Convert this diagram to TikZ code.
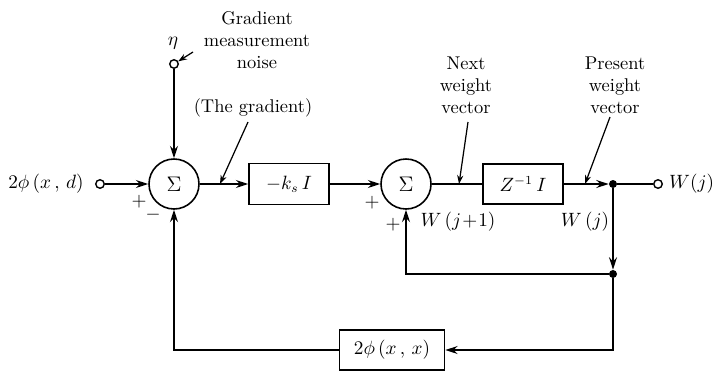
\documentclass[tikz,border=0pt]{standalone}
\usetikzlibrary{arrows.meta,positioning}

\begin{document}
\begin{tikzpicture}[
  >={Stealth[length=7pt,width=4.5pt]},
  every node/.style={font=\fontsize{10.5}{12.5}\selectfont},
  sumnode/.style={circle,draw,line width=0.9pt,minimum size=1cm,inner sep=0pt,font=\large},
  block/.style={rectangle,draw,line width=0.9pt,minimum width=1.6cm,minimum height=0.82cm,inner sep=2pt},
  port/.style={circle,draw,line width=0.8pt,fill=white,minimum size=0.17cm,inner sep=0pt},
  dot/.style={circle,fill=black,minimum size=0.16cm,inner sep=0pt},
  sig/.style={line width=1.1pt},
  pointer/.style={line width=0.7pt,->,>={Stealth[length=5pt,width=3.5pt]}},
  note/.style={align=center}
]
\useasboundingbox (0,0) rectangle (14.3,-7.44);
\def\ym{-3.68}
% main path
\node[port]     (in)   at (2.00,\ym)   {};
\node[sumnode]  (s1)   at (3.48,\ym)   {$\Sigma$};
\node[block]    (kbox) at (5.78,\ym)   {$-k_s\,I$};
\node[sumnode]  (s2)   at (8.12,\ym)   {$\Sigma$};
\node[block,minimum height=0.8cm] (zbox) at (10.46,\ym) {$Z^{-1}\,I$};
\node[dot]      (d1)   at (12.26,\ym)  {};
\node[port]     (out)  at (13.16,\ym)  {};
% noise input and feedback
\node[port]     (eta)  at (3.48,-1.28) {};
\node[dot]      (d2)   at (12.26,-5.48) {};
\node[block,minimum width=2.1cm,minimum height=0.8cm] (fbox) at (7.84,-7.0) {$2\phi\,(x\,,\,x)$};

% signal labels
\node[left=3pt of in]          (lin)  {$2\phi\,(x\,,\,d)$};
\node[right=0pt of out]        (lout) {$W(j)$};
\node                          (leta) at (3.46,-0.86) {$\eta$};
\node[note]                    (lnoise) at (5.14,-0.80) {Gradient\\measurement\\noise};
\node                          (lgrad) at (5.06,-2.16) {(The gradient)};
\node[note]                    (lnext) at (9.32,-1.70) {Next\\weight\\vector};
\node[note]                    (lpres) at (12.30,-1.70) {Present\\weight\\vector};
\node                          (lw1)  at (9.16,-4.44) {$W\,(j\!+\!1)$};
\node                          (lw0)  at (11.70,-4.44) {$W\,(j)$};
% signs
\node (p1) at (2.78,-4.04) {$+$};
\node (m1) at (3.06,-4.30) {$-$};
\node (p2) at (7.44,-4.06) {$+$};
\node (p3) at (7.86,-4.50) {$+$};

% pointer targets on the lines
\coordinate (tgrad) at (4.40,\ym);
\coordinate (tnext) at (9.18,\ym);
\coordinate (tpres) at (11.70,\ym);
\coordinate (snoise) at (3.86,-1.04);
\coordinate (sgrad) at (4.96,-2.44);
\coordinate (snext) at (9.36,-2.44);
\coordinate (spres) at (12.20,-2.34);

% forward edges
\draw[sig,->] (in) -- (s1);
\draw[sig,->] (eta) -- (s1);
\draw[sig,->] (s1) -- (kbox);
\draw[sig,->] (kbox) -- (s2);
\draw[sig]    (s2) -- (zbox);
\draw[sig,->] (zbox) -- (d1);
\draw[sig]    (d1) -- (out);

% feedback edges
\draw[sig,->] (d1) -- (d2);
\draw[sig,->] (d2) -| (s2);
\draw[sig,->] (d2) |- (fbox);
\draw[sig,->] (fbox) -| (s1);

% pointers
\draw[pointer] (snoise) -- (eta);
\draw[pointer] (sgrad) -- (tgrad);
\draw[pointer] (snext) -- (tnext);
\draw[pointer] (spres) -- (tpres);
\end{tikzpicture}
\end{document}
